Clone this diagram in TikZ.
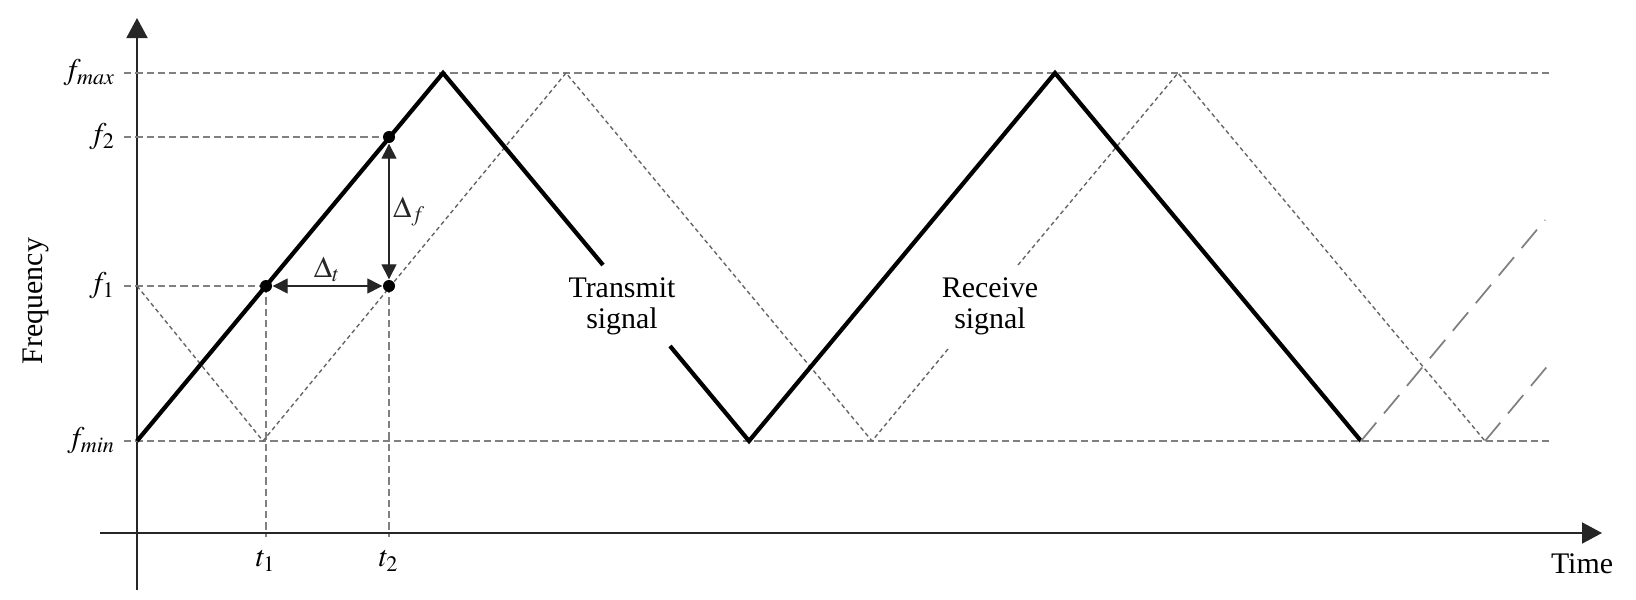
\documentclass[tikz,border=0pt]{standalone}
\usepackage{mathptmx}
\usepackage[no-math]{fontspec}
\setmainfont{Liberation Serif}
\newfontfamily\labelface{Liberation Serif}
\usetikzlibrary{arrows.meta}

\tikzset{
    axis/.style={black!85, line width=0.55pt, -{Triangle[length=0.2cm,width=0.21cm]}},
    guide/.style={gray, line width=0.45pt, dash pattern=on 2.1pt off 1.1pt},
    txsig/.style={black, line width=1.2pt, line join=miter},
    rxsig/.style={black!60, line width=0.4pt, dash pattern=on 1.2pt off 0.9pt},
    nextsweep/.style={gray, line width=0.5pt, dash pattern=on 6.8pt off 3.4pt},
    dot/.style={circle, fill=black, inner sep=0pt, minimum size=0.12cm},
    delta/.style={black!85, line width=0.4pt, {Triangle[length=0.15cm,width=0.15cm]}-{Triangle[length=0.15cm,width=0.15cm]}},
    lbl/.style={font=\labelface\fontsize{8.5}{8.8}\selectfont, inner sep=1pt},
}

\begin{document}
\begin{tikzpicture}[x=0.01cm, y=-0.01cm]
    \useasboundingbox (0,0) rectangle (1636,600);

    % axes
    \draw[axis] (137,590) -- (137,18);
    \draw[axis] (100,533) -- (1602,533);
    \node[lbl, rotate=90] (freq) at (36,301) {Frequency};
    \node[lbl] (time) at (1582,564) {Time};

    % frequency levels
    \node[lbl, anchor=east] (fmax) at (120,73) {$f_{max}$};
    \node[lbl, anchor=east] (f2) at (120,137) {$f_2$};
    \node[lbl, anchor=east] (f1) at (120,286) {$f_1$};
    \node[lbl, anchor=east] (fmin) at (120,441) {$f_{min}$};
    \node[lbl] (t1) at (266,561) {$t_1$};
    \node[lbl] (t2) at (389,561) {$t_2$};

    \coordinate (p1) at (266,286);
    \coordinate (p2) at (389,286);
    \coordinate (p3) at (389,137);

    \draw[guide] ([xshift=0.04cm]fmax.east) -- (1549,73);
    \draw[guide] ([xshift=0.04cm]fmin.east) -- (1549,441);
    \draw[guide] ([xshift=0.04cm]f1.east) -- (p1);
    \draw[guide] ([xshift=0.04cm]f2.east) -- (p3);
    \draw[guide] (p1) -- (266,537);
    \draw[guide] (p2) -- (389,537);

    % receive signal
    \draw[rxsig] (137,286) -- (263,441) -- (566,73) -- (872,441) -- (948,349);
    \draw[rxsig] (1018,265) -- (1178,73) -- (1485,441);
    \draw[nextsweep] (1485,441) -- (1550,363);

    % transmit signal
    \draw[txsig] (137,441) -- (443,73) -- (603,265);
    \draw[txsig] (670,346) -- (749,441) -- (1055,73) -- (1361,441);
    \draw[nextsweep] (1361,441) -- (1545,220);

    \node[lbl, align=center] (tx) at (622,306) {Transmit\\signal};
    \node[lbl, align=center] (rx) at (990,306) {Receive\\signal};

    % beat points
    \node[dot] (d1) at (p1) {};
    \node[dot] (d2) at (p2) {};
    \node[dot] (d3) at (p3) {};
    \draw[delta] (d1) -- (d2) node[midway, above, lbl] (dt) {$\Delta_t$};
    \draw[delta] (d2) -- (d3) node[midway, right, lbl] (df) {$\Delta_f$};
\end{tikzpicture}
\end{document}
